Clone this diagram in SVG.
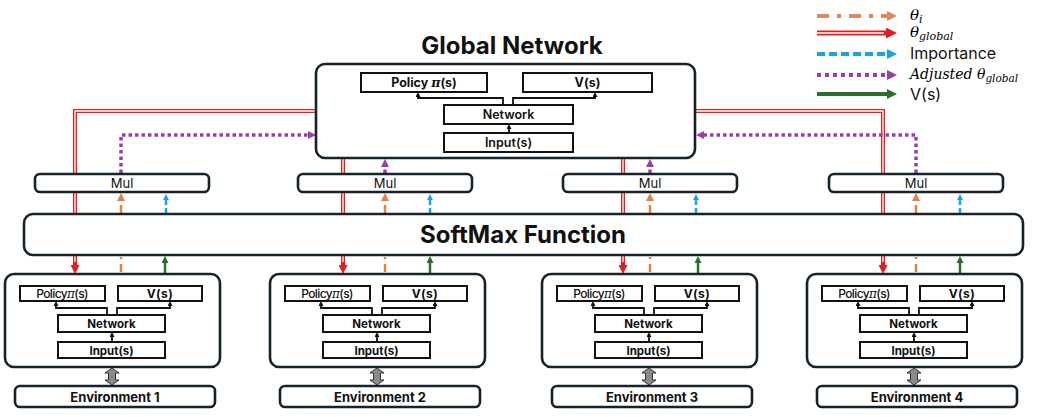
<svg xmlns="http://www.w3.org/2000/svg" width="1037" height="417" viewBox="0 0 1037 417">
<style>
.bx{fill:#fff;stroke:#17232b;stroke-width:2.6}
.ib{fill:#fff;stroke:#111;stroke-width:2}
.t{font-family:Inter,"Liberation Sans",sans-serif;fill:#111;text-anchor:middle}
.l{font-family:Inter,"Liberation Sans",sans-serif;fill:#111}
.b{font-weight:bold}
.m{font-family:"DejaVu Serif","Liberation Serif",serif;font-style:italic}
.red{fill:none;stroke:#e0201c;stroke-width:4}
.redw{fill:none;stroke:#fff;stroke-width:1.3}
.or{fill:none;stroke:#e48042;stroke-width:2.5;stroke-dasharray:8 5 2 5}
.cy{fill:none;stroke:#1fa3d8;stroke-width:2.5;stroke-dasharray:5 3}
.pu{fill:none;stroke:#9a3fa6;stroke-width:3.5;stroke-dasharray:3.5 3}
.gr{fill:none;stroke:#2a6e2f;stroke-width:2.5}
.bk{fill:none;stroke:#111;stroke-width:1.8}
.da{fill:#8a8a8a;stroke:#333;stroke-width:1}
.lg{stroke-width:4}
</style>
<defs>
<marker id="ar" markerUnits="userSpaceOnUse" markerWidth="9" markerHeight="9" refX="0" refY="4.5" orient="auto"><path d="M0,0 L9,4.5 L0,9 z" fill="#e0201c"/></marker>
<marker id="ao" markerUnits="userSpaceOnUse" markerWidth="8" markerHeight="8" refX="0" refY="4" orient="auto"><path d="M0,0 L8,4 L0,8 z" fill="#e48042"/></marker>
<marker id="ac" markerUnits="userSpaceOnUse" markerWidth="6" markerHeight="6" refX="0" refY="3" orient="auto"><path d="M0,0 L6,3 L0,6 z" fill="#1fa3d8"/></marker>
<marker id="ap" markerUnits="userSpaceOnUse" markerWidth="8" markerHeight="8" refX="0" refY="4" orient="auto"><path d="M0,0 L8,4 L0,8 z" fill="#9a3fa6"/></marker>
<marker id="ag" markerUnits="userSpaceOnUse" markerWidth="7" markerHeight="7" refX="0" refY="3.5" orient="auto"><path d="M0,0 L7,3.5 L0,7 z" fill="#2a6e2f"/></marker>
<marker id="ak" markerUnits="userSpaceOnUse" markerWidth="5" markerHeight="5" refX="0" refY="2.5" orient="auto"><path d="M0,0 L5,2.5 L0,5 z" fill="#111"/></marker>
<marker id="lo" markerUnits="userSpaceOnUse" markerWidth="10" markerHeight="10" refX="0" refY="5" orient="auto"><path d="M0,0 L10,5 L0,10 z" fill="#d98a5c"/></marker>
<marker id="lr" markerUnits="userSpaceOnUse" markerWidth="11" markerHeight="11" refX="0" refY="5.5" orient="auto"><path d="M0,0 L11,5.5 L0,11 z" fill="#e0201c"/></marker>
<marker id="lc" markerUnits="userSpaceOnUse" markerWidth="10" markerHeight="10" refX="0" refY="5" orient="auto"><path d="M0,0 L10,5 L0,10 z" fill="#1fa3d8"/></marker>
<marker id="lp" markerUnits="userSpaceOnUse" markerWidth="10" markerHeight="10" refX="0" refY="5" orient="auto"><path d="M0,0 L10,5 L0,10 z" fill="#9a3fa6"/></marker>
<marker id="lgm" markerUnits="userSpaceOnUse" markerWidth="10" markerHeight="10" refX="0" refY="5" orient="auto"><path d="M0,0 L10,5 L0,10 z" fill="#2a6e2f"/></marker>
</defs>
<rect width="1037" height="417" fill="#fff"/>

<g id="connectors">
<path class="red" d="M316,111 H75 V265" marker-end="url(#ar)"/>
<path class="redw" d="M316,111 H75 V262"/>
<path class="red" d="M343,158 V265" marker-end="url(#ar)"/>
<path class="redw" d="M343,158 V262"/>
<path class="red" d="M623,158 V265" marker-end="url(#ar)"/>
<path class="redw" d="M623,158 V262"/>
<path class="red" d="M695,111 H883 V265" marker-end="url(#ar)"/>
<path class="redw" d="M695,111 H883 V262"/>
<path class="or" d="M121,272 V256"/><path class="or" d="M121,213 V201" marker-end="url(#ao)"/>
<path class="or" d="M385,272 V256"/><path class="or" d="M385,213 V201" marker-end="url(#ao)"/>
<path class="or" d="M650,272 V256"/><path class="or" d="M650,213 V201" marker-end="url(#ao)"/>
<path class="or" d="M916,272 V256"/><path class="or" d="M916,213 V201" marker-end="url(#ao)"/>
<path class="cy" d="M166,213 V200" marker-end="url(#ac)"/>
<path class="cy" d="M430,213 V200" marker-end="url(#ac)"/>
<path class="cy" d="M696,213 V200" marker-end="url(#ac)"/>
<path class="cy" d="M960,213 V200" marker-end="url(#ac)"/>
<path class="gr" d="M165,273 V263" marker-end="url(#ag)"/>
<path class="gr" d="M430,273 V263" marker-end="url(#ag)"/>
<path class="gr" d="M698,273 V263" marker-end="url(#ag)"/>
<path class="gr" d="M960,273 V263" marker-end="url(#ag)"/>
<path class="pu" d="M121,173 V135 H308" marker-end="url(#ap)"/>
<path class="pu" d="M385,173 V167" marker-end="url(#ap)"/>
<path class="pu" d="M650,173 V167" marker-end="url(#ap)"/>
<path class="pu" d="M916,173 V135 H704" marker-end="url(#ap)"/>
</g>

<g id="global">
<text class="t b" x="512" y="54" font-size="24">Global Network</text>
<rect class="bx" x="316" y="64" width="379" height="94" rx="9"/>
<rect class="ib" x="361" y="73" width="126" height="19"/>
<text class="t b" x="424" y="87" font-size="12.5">Policy <tspan class="m">π</tspan>(s)</text>
<rect class="ib" x="523" y="73" width="129" height="19"/>
<text class="t b" x="587.5" y="87" font-size="12.5">V(s)</text>
<rect class="ib" x="444" y="105" width="129" height="19"/>
<text class="t" x="508.5" y="119" font-size="12.5" font-weight="600">Network</text>
<rect class="ib" x="444" y="133" width="129" height="19"/>
<text class="t" x="508.5" y="147" font-size="12.5" font-weight="600">Input(s)</text>
<path class="bk" d="M503,105 V98 H418 V97" marker-end="url(#ak)"/>
<path class="bk" d="M513,105 V98 H595 V97" marker-end="url(#ak)"/>
<path class="bk" d="M509,133 V129" marker-end="url(#ak)"/>
</g>

<g id="mul1"><rect class="bx" x="35" y="174" width="174" height="18" rx="5"/><text class="t" x="122" y="188" font-size="13">Mul</text></g>
<g id="mul2"><rect class="bx" x="298" y="174" width="174" height="18" rx="5"/><text class="t" x="385" y="188" font-size="13">Mul</text></g>
<g id="mul3"><rect class="bx" x="563" y="174" width="174" height="18" rx="5"/><text class="t" x="650" y="188" font-size="13">Mul</text></g>
<g id="mul4"><rect class="bx" x="829" y="174" width="174" height="18" rx="5"/><text class="t" x="916" y="188" font-size="13">Mul</text></g>

<g id="softmax"><rect class="bx" x="24" y="214" width="999" height="41" rx="9" stroke-width="3"/><text class="t b" x="523" y="243" font-size="24">SoftMax Function</text></g>

<g id="agent1">
<rect class="bx" x="5" y="274" width="215" height="93" rx="9"/>
<rect class="ib" x="20" y="286" width="85" height="15"/>
<text class="t" x="62" y="298" font-size="12" letter-spacing="-0.6" font-weight="500">Policy<tspan class="m">π</tspan>(s)</text>
<rect class="ib" x="118" y="286" width="84" height="15"/>
<text class="t b" x="160" y="298" font-size="12" letter-spacing="0.5">V(s)</text>
<rect class="ib" x="58" y="315" width="107" height="17"/>
<text class="t b" x="111.5" y="328" font-size="11.5">Network</text>
<rect class="ib" x="58" y="342" width="107" height="16"/>
<text class="t b" x="111.5" y="354.5" font-size="11.5">Input(s)</text>
<path class="bk" d="M107,315 V308 H56 V306" marker-end="url(#ak)"/>
<path class="bk" d="M117,315 V308 H170 V306" marker-end="url(#ak)"/>
<path class="bk" d="M112,342 V337" marker-end="url(#ak)"/>
<polygon class="da" points="112,368 119,373 115.5,373 115.5,380 119,380 112,385 105,380 108.5,380 108.5,373 105,373"/>
<rect class="bx" x="15" y="386" width="200" height="21" rx="5"/>
<text class="t b" x="115" y="401.5" font-size="13">Environment 1</text>
</g>
<g id="agent2" transform="translate(265,0)">
<rect class="bx" x="5" y="274" width="215" height="93" rx="9"/>
<rect class="ib" x="20" y="286" width="85" height="15"/>
<text class="t" x="62" y="298" font-size="12" letter-spacing="-0.6" font-weight="500">Policy<tspan class="m">π</tspan>(s)</text>
<rect class="ib" x="118" y="286" width="84" height="15"/>
<text class="t b" x="160" y="298" font-size="12" letter-spacing="0.5">V(s)</text>
<rect class="ib" x="58" y="315" width="107" height="17"/>
<text class="t b" x="111.5" y="328" font-size="11.5">Network</text>
<rect class="ib" x="58" y="342" width="107" height="16"/>
<text class="t b" x="111.5" y="354.5" font-size="11.5">Input(s)</text>
<path class="bk" d="M107,315 V308 H56 V306" marker-end="url(#ak)"/>
<path class="bk" d="M117,315 V308 H170 V306" marker-end="url(#ak)"/>
<path class="bk" d="M112,342 V337" marker-end="url(#ak)"/>
<polygon class="da" points="112,368 119,373 115.5,373 115.5,380 119,380 112,385 105,380 108.5,380 108.5,373 105,373"/>
<rect class="bx" x="15" y="386" width="200" height="21" rx="5"/>
<text class="t b" x="115" y="401.5" font-size="13">Environment 2</text>
</g>
<g id="agent3" transform="translate(537,0)">
<rect class="bx" x="5" y="274" width="215" height="93" rx="9"/>
<rect class="ib" x="20" y="286" width="85" height="15"/>
<text class="t" x="62" y="298" font-size="12" letter-spacing="-0.6" font-weight="500">Policy<tspan class="m">π</tspan>(s)</text>
<rect class="ib" x="118" y="286" width="84" height="15"/>
<text class="t b" x="160" y="298" font-size="12" letter-spacing="0.5">V(s)</text>
<rect class="ib" x="58" y="315" width="107" height="17"/>
<text class="t b" x="111.5" y="328" font-size="11.5">Network</text>
<rect class="ib" x="58" y="342" width="107" height="16"/>
<text class="t b" x="111.5" y="354.5" font-size="11.5">Input(s)</text>
<path class="bk" d="M107,315 V308 H56 V306" marker-end="url(#ak)"/>
<path class="bk" d="M117,315 V308 H170 V306" marker-end="url(#ak)"/>
<path class="bk" d="M112,342 V337" marker-end="url(#ak)"/>
<polygon class="da" points="112,368 119,373 115.5,373 115.5,380 119,380 112,385 105,380 108.5,380 108.5,373 105,373"/>
<rect class="bx" x="15" y="386" width="200" height="21" rx="5"/>
<text class="t b" x="115" y="401.5" font-size="13">Environment 3</text>
</g>
<g id="agent4" transform="translate(802,0)">
<rect class="bx" x="5" y="274" width="215" height="93" rx="9"/>
<rect class="ib" x="20" y="286" width="85" height="15"/>
<text class="t" x="62" y="298" font-size="12" letter-spacing="-0.6" font-weight="500">Policy<tspan class="m">π</tspan>(s)</text>
<rect class="ib" x="118" y="286" width="84" height="15"/>
<text class="t b" x="160" y="298" font-size="12" letter-spacing="0.5">V(s)</text>
<rect class="ib" x="58" y="315" width="107" height="17"/>
<text class="t b" x="111.5" y="328" font-size="11.5">Network</text>
<rect class="ib" x="58" y="342" width="107" height="16"/>
<text class="t b" x="111.5" y="354.5" font-size="11.5">Input(s)</text>
<path class="bk" d="M107,315 V308 H56 V306" marker-end="url(#ak)"/>
<path class="bk" d="M117,315 V308 H170 V306" marker-end="url(#ak)"/>
<path class="bk" d="M112,342 V337" marker-end="url(#ak)"/>
<polygon class="da" points="112,368 119,373 115.5,373 115.5,380 119,380 112,385 105,380 108.5,380 108.5,373 105,373"/>
<rect class="bx" x="15" y="386" width="200" height="21" rx="5"/>
<text class="t b" x="115" y="401.5" font-size="13">Environment 4</text>
</g>

<g id="legend">
<path class="or lg" d="M817,16 H887" stroke="#d98a5c" style="stroke:#d98a5c;stroke-dasharray:12 8 4 8" marker-end="url(#lo)"/>
<text class="m" x="910" y="20" font-size="15">θ<tspan font-size="11" dy="3">i</tspan></text>
<path class="red" d="M817,33 H886" style="stroke-width:5" marker-end="url(#lr)"/>
<path class="redw" d="M817,33 H884"/>
<text class="m" x="910" y="37" font-size="15">θ<tspan font-size="11" dy="3">global</tspan></text>
<path class="cy lg" d="M817,54 H887" style="stroke-dasharray:8 4" marker-end="url(#lc)"/>
<text class="l" x="910" y="59" font-size="16">Importance</text>
<path class="pu lg" d="M817,75 H887" style="stroke-dasharray:4 4" marker-end="url(#lp)"/>
<text class="m" x="910" y="79" font-size="14">Adjusted θ<tspan font-size="10.5" dy="3">global</tspan></text>
<path class="gr lg" d="M817,94 H887" marker-end="url(#lgm)"/>
<text class="l" x="910" y="100" font-size="16">V(s)</text>
</g>
</svg>
